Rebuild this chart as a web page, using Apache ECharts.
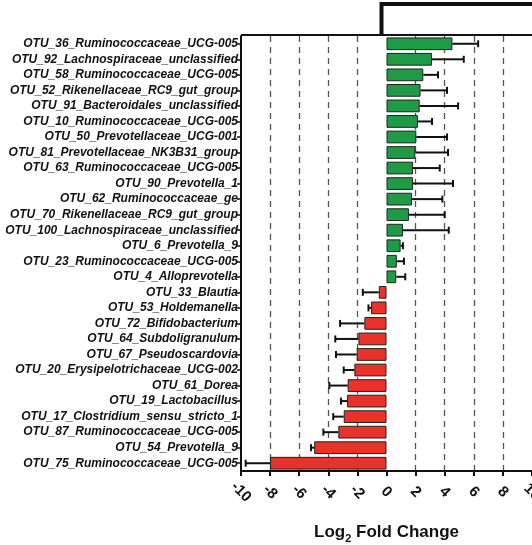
<!DOCTYPE html>
<html>
<head>
<meta charset="utf-8">
<script src="https://cdn.jsdelivr.net/npm/echarts@6/dist/echarts.min.js"></script>
<style>
  html, body { margin: 0; padding: 0; background: #fff; }
  #chart { width: 532px; height: 545px; }
</style>
</head>
<body>
<div id="chart"></div>
<script>
const otuLabels = [
  "OTU_36_Ruminococcaceae_UCG-005",
  "OTU_92_Lachnospiraceae_unclassified",
  "OTU_58_Ruminococcaceae_UCG-005",
  "OTU_52_Rikenellaceae_RC9_gut_group",
  "OTU_91_Bacteroidales_unclassified",
  "OTU_10_Ruminococcaceae_UCG-005",
  "OTU_50_Prevotellaceae_UCG-001",
  "OTU_81_Prevotellaceae_NK3B31_group",
  "OTU_63_Ruminococcaceae_UCG-005",
  "OTU_90_Prevotella_1",
  "OTU_62_Ruminococcaceae_ge",
  "OTU_70_Rikenellaceae_RC9_gut_group",
  "OTU_100_Lachnospiraceae_unclassified",
  "OTU_6_Prevotella_9",
  "OTU_23_Ruminococcaceae_UCG-005",
  "OTU_4_Alloprevotella",
  "OTU_33_Blautia",
  "OTU_53_Holdemanella",
  "OTU_72_Bifidobacterium",
  "OTU_64_Subdoligranulum",
  "OTU_67_Pseudoscardovia",
  "OTU_20_Erysipelotrichaceae_UCG-002",
  "OTU_61_Dorea",
  "OTU_19_Lactobacillus",
  "OTU_17_Clostridium_sensu_stricto_1",
  "OTU_87_Ruminococcaceae_UCG-005",
  "OTU_54_Prevotella_9",
  "OTU_75_Ruminococcaceae_UCG-005",
];

// log2 fold change per OTU
const log2FC = [
  4.53, 3.13, 2.53, 2.34, 2.28, 2.16, 2.05, 1.98, 1.82, 1.82, 1.75, 1.54, 1.13, 0.97, 0.71, 0.67,
  -0.53, -1.06, -1.52, -1.93, -2.05, -2.21, -2.67, -2.71, -2.94, -3.31, -4.97, -8.0,
];

// one-sided error (drawn away from zero)
const errSize = [
  1.77, 2.18, 1.01, 1.82, 2.64, 0.97, 2.11, 2.25, 1.84, 2.75, 2.09, 2.46, 3.15, 0.16, 0.49, 0.62,
  1.10, 0.18, 1.67, 1.59, 1.42, 0.73, 1.26, 0.42, 0.72, 1.03, 0.22, 1.68,
];

const xTicks = [-10, -8, -6, -4, -2, 0, 2, 4, 6, 8, 10];
const dashedAt = [-8, -6, -4, -2, 2, 4, 6, 8];

const GREEN = "#1f9a45";
const RED = "#e8322a";

const chart = echarts.init(document.getElementById("chart"));

const barData = log2FC.map((v) => ({
  value: v,
  itemStyle: { color: v >= 0 ? GREEN : RED },
}));

const errData = log2FC.map((v, i) => [i, v, v >= 0 ? v + errSize[i] : v - errSize[i]]);

const renderErr = (params, api) => {
  const cat = api.value(0);
  const start = api.coord([api.value(1), cat]);
  const end = api.coord([api.value(2), cat]);
  const capHalf = 3.5;
  const style = { stroke: "#111", lineWidth: 2 };
  return {
    type: "group",
    children: [
      { type: "line", shape: { x1: start[0], y1: start[1], x2: end[0], y2: end[1] }, style },
      { type: "line", shape: { x1: end[0], y1: end[1] - capHalf, x2: end[0], y2: end[1] + capHalf }, style },
    ],
  };
};

chart.setOption({
  animation: false,
  backgroundColor: "#fff",
  grid: { left: 241, right: 0, top: 36, bottom: 74, containLabel: false, outerBoundsMode: "none" },
  xAxis: {
    type: "value",
    min: xTicks[0],
    max: xTicks[xTicks.length - 1],
    interval: 2,
    name: "Log{sub|2} Fold Change",
    nameLocation: "middle",
    nameGap: 50,
    nameTextStyle: {
      fontFamily: "Liberation Sans, Arial, sans-serif",
      fontWeight: "bold",
      fontSize: 17,
      color: "#111",
      rich: {
        sub: {
          fontFamily: "Liberation Sans, Arial, sans-serif",
          fontWeight: "bold",
          fontSize: 11,
          color: "#111",
          verticalAlign: "bottom",
          padding: [12, 0, 0, 0],
        },
      },
    },
    axisLine: { show: true, lineStyle: { color: "#111", width: 2 } },
    axisTick: { show: true, length: 5, lineStyle: { color: "#111", width: 2 } },
    axisLabel: {
      rotate: -45,
      align: "center",
      verticalAlign: "middle",
      margin: 21,
      hideOverlap: false,
      showMaxLabel: true,
      showMinLabel: true,
      fontFamily: "Liberation Sans, Arial, sans-serif",
      fontWeight: "bold",
      fontSize: 15,
      color: "#111",
    },
    splitLine: { show: false },
  },
  yAxis: {
    type: "category",
    data: otuLabels,
    inverse: true,
    axisLine: { show: true, onZero: false, lineStyle: { color: "#111", width: 2 } },
    axisTick: { show: true, length: 4, interval: 0, alignWithLabel: true, lineStyle: { color: "#111", width: 1.5 } },
    axisLabel: {
      interval: 0,
      margin: 3,
      fontFamily: "Liberation Sans, Arial, sans-serif",
      fontWeight: "bold",
      fontStyle: "italic",
      fontSize: 12,
      color: "#111",
    },
  },
  series: [
    {
      type: "bar",
      data: barData,
      barWidth: "82%",
      itemStyle: { borderColor: "#222", borderWidth: 1 },
      markLine: {
        silent: true,
        symbol: "none",
        label: { show: false },
        lineStyle: { color: "#555", type: [6, 5], width: 1.3 },
        data: dashedAt.map((x) => ({ xAxis: x })),
        z: 0,
      },
      z: 2,
    },
    {
      type: "custom",
      renderItem: renderErr,
      data: errData,
      encode: { x: [1, 2], y: 0 },
      z: 3,
    },
  ],
  graphic: [
    { type: "line", shape: { x1: 241, y1: 35, x2: 532, y2: 35 }, style: { stroke: "#111", lineWidth: 2 } },
    { type: "polyline", shape: { points: [[381.5, 35], [381.5, 4], [532, 4]] }, style: { stroke: "#111", lineWidth: 4, fill: null } },
  ],
});
</script>
</body>
</html>
